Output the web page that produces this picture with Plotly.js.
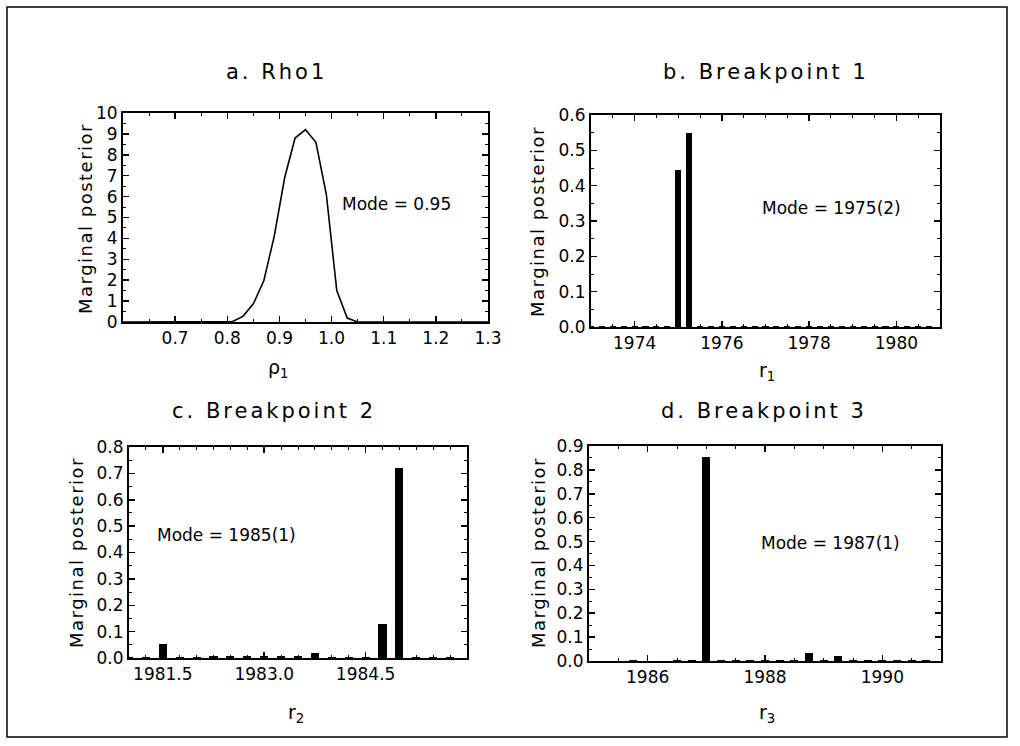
<!DOCTYPE html>
<html>
<head>
<meta charset="utf-8">
<script src="https://cdn.plot.ly/plotly-3.0.1.min.js"></script>
<style>html,body{margin:0;padding:0;background:#fff;}#chart{width:1020px;height:746px;}</style>
</head>
<body>
<div id="chart"></div>
<script>
// ---- Panel a: marginal posterior of rho1 ----
const rhoGrid = [0.60, 0.80, 0.81, 0.83, 0.85, 0.87, 0.89, 0.91, 0.93, 0.95, 0.97, 0.99, 1.01, 1.03, 1.05, 1.30];
const rhoDensity = [0, 0, 0.02, 0.27, 0.87, 1.97, 4.1, 6.9, 8.8, 9.2, 8.6, 6.1, 1.5, 0.19, 0, 0];

// ---- Panel b: breakpoint 1 (quarterly) ----
const r1Quarters = [1973.0, 1973.25, 1973.5, 1973.75, 1974.0, 1974.25, 1974.5, 1974.75, 1975.0, 1975.25, 1975.5, 1975.75,
  1976.0, 1976.25, 1976.5, 1976.75, 1977.0, 1977.25, 1977.5, 1977.75, 1978.0, 1978.25, 1978.5, 1978.75,
  1979.0, 1979.25, 1979.5, 1979.75, 1980.0, 1980.25, 1980.5, 1980.75];
const r1Posterior = [0.002, 0.002, 0.002, 0.002, 0.002, 0.002, 0.002, 0.002, 0.445, 0.548, 0.002, 0.002,
  0.002, 0.002, 0.002, 0.002, 0.002, 0.002, 0.002, 0.002, 0.002, 0.002, 0.002, 0.002,
  0.002, 0.002, 0.002, 0.002, 0.002, 0.002, 0.002, 0.002];

// ---- Panel c: breakpoint 2 (quarterly) ----
const r2Quarters = [1981.0, 1981.25, 1981.5, 1981.75, 1982.0, 1982.25, 1982.5, 1982.75, 1983.0, 1983.25,
  1983.5, 1983.75, 1984.0, 1984.25, 1984.5, 1984.75, 1985.0, 1985.25, 1985.5, 1985.75];
const r2Posterior = [0.002, 0.003, 0.052, 0.004, 0.004, 0.006, 0.006, 0.007, 0.008, 0.008,
  0.006, 0.019, 0.005, 0.004, 0.003, 0.130, 0.720, 0.004, 0.004, 0.002];

// ---- Panel d: breakpoint 3 (quarterly) ----
const r3Quarters = [1985.0, 1985.25, 1985.5, 1985.75, 1986.0, 1986.25, 1986.5, 1986.75, 1987.0, 1987.25, 1987.5, 1987.75,
  1988.0, 1988.25, 1988.5, 1988.75, 1989.0, 1989.25, 1989.5, 1989.75, 1990.0, 1990.25, 1990.5, 1990.75];
const r3Posterior = [0.002, 0.002, 0.002, 0.003, 0.002, 0.002, 0.004, 0.004, 0.852, 0.005, 0.003, 0.005,
  0.003, 0.003, 0.004, 0.032, 0.006, 0.019, 0.003, 0.003, 0.003, 0.003, 0.006, 0.003];

// ---- Text ----
const panelTitles = ["a. Rho1", "b. Breakpoint 1", "c. Breakpoint 2", "d. Breakpoint 3"];
const xTitles = ["ρ<sub>1</sub>", "r<sub>1</sub>", "r<sub>2</sub>", "r<sub>3</sub>"];
const yTitle = "Marginal posterior";
const modeTexts = ["Mode = 0.95", "Mode = 1975(2)", "Mode = 1985(1)", "Mode = 1987(1)"];

const tickA = [0.7, 0.8, 0.9, 1.0, 1.1, 1.2, 1.3];
const tickB = [1974, 1976, 1978, 1980];
const tickC = [1981.5, 1983.0, 1984.5];
const tickD = [1986, 1988, 1990];

const W = 1020, H = 746;
const FONT = "DejaVu Sans, sans-serif";
const px = v => v / W;
const py = v => 1 - v / H;

function common() {
  return {
    showline: true, linecolor: '#000', linewidth: 2, mirror: 'allticks',
    ticks: 'inside', ticklen: 6, tickwidth: 1.5, tickcolor: '#000',
    showgrid: false, zeroline: false, fixedrange: true,
    tickfont: {family: FONT, size: 17, color: '#000'}
  };
}
function xax(anchor, domain, range, tickvals, fmt, minorD) {
  return Object.assign(common(), {
    anchor: anchor, domain: domain, range: range, tickmode: 'array', tickvals: tickvals, tickformat: fmt,
    minor: {tickmode: 'linear', tick0: range[0], dtick: minorD, ticks: 'inside', ticklen: 3, tickcolor: '#000', tickwidth: 1}
  });
}
function yax(anchor, domain, range, dtick, fmt, minorD) {
  return Object.assign(common(), {
    anchor: anchor, domain: domain, range: range, tickmode: 'linear', dtick: dtick, tick0: 0, tickformat: fmt,
    minor: {tickmode: 'linear', tick0: 0, dtick: minorD, ticks: 'inside', ticklen: 3, tickcolor: '#000', tickwidth: 1}
  });
}

const traces = [
  {x: rhoGrid, y: rhoDensity, type: 'scatter', mode: 'lines', line: {color: '#000', width: 1.6}, xaxis: 'x', yaxis: 'y', hoverinfo: 'skip', cliponaxis: true},
  {x: r1Quarters, y: r1Posterior, type: 'bar', width: 0.14, marker: {color: '#000', line: {width: 0}}, xaxis: 'x2', yaxis: 'y2', hoverinfo: 'skip'},
  {x: r2Quarters, y: r2Posterior, type: 'bar', width: 0.12, marker: {color: '#000', line: {width: 0}}, xaxis: 'x3', yaxis: 'y3', hoverinfo: 'skip'},
  {x: r3Quarters, y: r3Posterior, type: 'bar', width: 0.14, marker: {color: '#000', line: {width: 0}}, xaxis: 'x4', yaxis: 'y4', hoverinfo: 'skip'}
];

const spaced = (t, s) => '<span style="letter-spacing:' + s + 'px">' + t + '</span>';

function ann(text, x, y, size, extra) {
  return Object.assign({text: text, x: px(x), y: py(y), xref: 'paper', yref: 'paper', showarrow: false,
    xanchor: 'center', yanchor: 'middle', font: {family: FONT, size: size, color: '#000'}}, extra || {});
}

const annotations = [
  ann(spaced(panelTitles[0], 3), 276, 72, 21),
  ann(spaced(panelTitles[1], 3), 766, 72, 21),
  ann(spaced(panelTitles[2], 3), 274, 411, 21),
  ann(spaced(panelTitles[3], 3), 764, 411, 21),
  ann(spaced(yTitle, 1.5), 86, 219, 18, {textangle: -90}),
  ann(spaced(yTitle, 1.5), 538, 222, 18, {textangle: -90}),
  ann(spaced(yTitle, 1.5), 76, 553, 18, {textangle: -90}),
  ann(spaced(yTitle, 1.5), 538, 553, 18, {textangle: -90}),
  ann(xTitles[0], 278, 368, 19),
  ann(xTitles[1], 767, 371, 19),
  ann(xTitles[2], 296, 713, 19),
  ann(xTitles[3], 767, 713, 19),
  ann(modeTexts[0], 396, 204, 17),
  ann(modeTexts[1], 831, 208, 17),
  ann(modeTexts[2], 226, 535, 17),
  ann(modeTexts[3], 830, 543, 17)
];

const layout = {
  width: W, height: H, autosize: false,
  margin: {l: 0, r: 0, t: 0, b: 0, pad: 0},
  paper_bgcolor: '#fff', plot_bgcolor: '#fff',
  showlegend: false, bargap: 0,
  xaxis: xax('y', [px(123), px(488)], [0.6, 1.3], tickA, '.1f', 0.05),
  yaxis: yax('x', [py(322), py(113)], [0, 10], 1, 'd', 0.5),
  xaxis2: xax('y2', [px(591), px(940)], [1973, 1981], tickB, 'd', 0.5),
  yaxis2: yax('x2', [py(327), py(115)], [0, 0.6], 0.1, '.1f', 0.05),
  xaxis3: xax('y3', [px(129), px(467)], [1981, 1986], tickC, '.1f', 0.25),
  yaxis3: yax('x3', [py(658), py(447)], [0, 0.8], 0.1, '.1f', 0.05),
  xaxis4: xax('y4', [px(589), px(941)], [1985, 1991], tickD, 'd', 0.5),
  yaxis4: yax('x4', [py(661), py(446)], [0, 0.9], 0.1, '.1f', 0.05),
  annotations: annotations,
  shapes: [
    {type: 'rect', xref: 'paper', yref: 'paper', x0: px(7), x1: px(1007), y0: py(737), y1: py(7),
     line: {color: '#000', width: 1.5}, fillcolor: 'rgba(0,0,0,0)'}
  ]
};

Plotly.newPlot('chart', traces, layout, {staticPlot: true, displayModeBar: false});
</script>
</body>
</html>
